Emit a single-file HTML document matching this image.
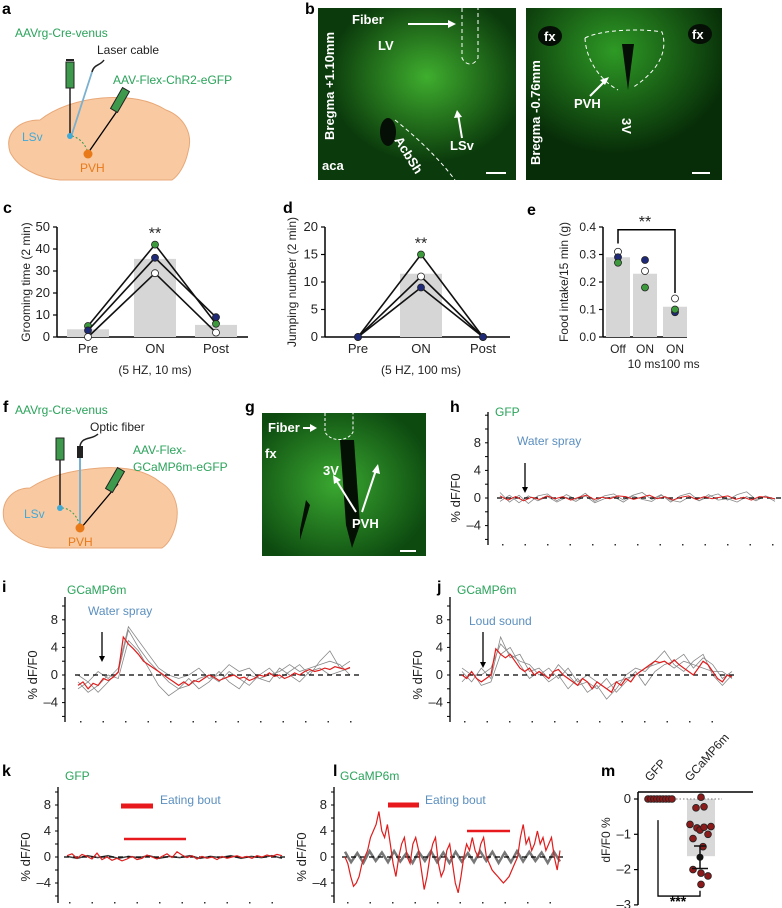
<!DOCTYPE html>
<html><head><meta charset="utf-8">
<style>
html,body{margin:0;padding:0;background:#fff}
svg{display:block;font-family:"Liberation Sans",Arial,sans-serif}
.pl{font-weight:bold;font-size:16px;fill:#000}
.tk{font-size:12px;fill:#222}
.gr{fill:#2aa35a;font-size:12px}
.bl{fill:#5b8fbf;font-size:12px}
.wt{fill:#fff;font-weight:bold;font-size:13px}
</style></head>
<body>
<svg id="fig" width="782" height="908" viewBox="0 0 782 908">
<defs>
<radialGradient id="gb1" cx="0.55" cy="0.4" r="0.5"><stop offset="0" stop-color="#3fae2e"/><stop offset="1" stop-color="#0b3a0c"/></radialGradient>
<radialGradient id="gb2" cx="0.45" cy="0.25" r="0.6"><stop offset="0" stop-color="#2e9a25"/><stop offset="1" stop-color="#072c08"/></radialGradient>
<radialGradient id="gg" cx="0.45" cy="0.5" r="0.6"><stop offset="0" stop-color="#3aa830"/><stop offset="1" stop-color="#0d4a10"/></radialGradient>
<clipPath id="cb1"><rect x="318" y="8" width="198" height="172"/></clipPath>
</defs>

<!-- Panel a -->
<g>
<text class="pl" x="2" y="14">a</text>
<path d="M10,152 C4,132 20,120 40,120 C55,108 78,100 102,98 C130,96 150,100 166,110 C182,116 194,132 188,152 C185,166 178,176 172,180 L60,180 C38,178 18,168 10,152 Z" fill="#f9caa2" stroke="#e8a878"/>
<line x1="70" y1="88" x2="70" y2="136" stroke="#000" stroke-width="1.3"/>
<rect x="66" y="62" width="8" height="26" fill="#3d9a4c" stroke="#222"/>
<line x1="66" y1="60" x2="74" y2="60" stroke="#222" stroke-width="2"/>
<line x1="92" y1="72" x2="72" y2="134" stroke="#7ab0d0" stroke-width="1.8"/>
<path d="M92,72 C94,64 100,66 104,60" fill="none" stroke="#222" stroke-width="1.5"/>
<line x1="122" y1="104" x2="88" y2="153" stroke="#000" stroke-width="1.3"/>
<rect x="116" y="88" width="8" height="24" fill="#3d9a4c" stroke="#222" transform="rotate(30 120 100)"/>
<path d="M72,136 C80,138 86,145 88,153" fill="none" stroke="#3a9a50" stroke-dasharray="2,2"/>
<circle cx="70" cy="136" r="3" fill="#3fa9d8"/>
<circle cx="88" cy="154" r="4.5" fill="#e87a1a"/>
<text class="gr" x="15" y="37">AAVrg-Cre-venus</text>
<text x="97" y="54" font-size="12" fill="#222">Laser cable</text>
<text class="gr" x="113" y="84">AAV-Flex-ChR2-eGFP</text>
<text x="22" y="141" font-size="12" fill="#3fa9d8">LSv</text>
<text x="80" y="172" font-size="12" fill="#e87a1a">PVH</text>
</g>

<!-- Panel b -->
<g>
<text class="pl" x="305" y="14">b</text>
<rect x="318" y="8" width="198" height="172" fill="url(#gb1)"/>
<g clip-path="url(#cb1)">
<ellipse cx="388" cy="132" rx="8" ry="14" fill="#050f05"/>
<path d="M395,120 C420,140 440,160 455,180" fill="none" stroke="#fff" stroke-dasharray="4,3"/>
<path d="M462,8 L462,58 C466,66 474,66 478,58 L478,8" fill="none" stroke="#fff" stroke-dasharray="4,3"/>
<text class="wt" x="394" y="140" transform="rotate(58 394 140)">AcbSh</text>
</g>
<text class="wt" x="352" y="24">Fiber</text>
<line x1="408" y1="24" x2="452" y2="24" stroke="#fff" stroke-width="2"/><polygon points="456,24 448,20 448,28" fill="#fff"/>
<text class="wt" x="378" y="50">LV</text>
<text class="wt" x="450" y="150">LSv</text>
<line x1="462" y1="138" x2="458" y2="114" stroke="#fff" stroke-width="2"/><polygon points="457,110 454,118 462,117" fill="#fff"/>
<text class="wt" x="322" y="170">aca</text>
<text class="wt" x="0" y="0" transform="translate(334,140) rotate(-90)">Bregma +1.10mm</text>
<line x1="486" y1="173" x2="506" y2="173" stroke="#fff" stroke-width="2"/>
<rect x="526" y="8" width="196" height="172" fill="url(#gb2)"/>
<ellipse cx="550" cy="36" rx="12" ry="10" fill="#050f05"/><ellipse cx="700" cy="34" rx="12" ry="10" fill="#050f05"/>
<path d="M622,44 L628,90 L634,44 Z" fill="#050f05"/>
<path d="M585,38 C600,30 640,28 662,32 C668,50 660,70 632,88 M585,38 C586,60 600,80 618,90" fill="none" stroke="#fff" stroke-dasharray="4,3"/>
<text class="wt" x="544" y="41">fx</text><text class="wt" x="692" y="39">fx</text>
<text class="wt" x="574" y="108">PVH</text>
<line x1="590" y1="96" x2="606" y2="80" stroke="#fff" stroke-width="2"/><polygon points="609,77 600,80 605,85" fill="#fff"/>
<text class="wt" x="0" y="0" transform="translate(622,118) rotate(90)">3V</text>
<text class="wt" x="0" y="0" transform="translate(540,165) rotate(-90)">Bregma -0.76mm</text>
<line x1="692" y1="173" x2="710" y2="173" stroke="#fff" stroke-width="2"/>
</g>

<text class="pl" x="3" y="213">c</text>
<text class="pl" x="283" y="213">d</text>
<text class="pl" x="527" y="215">e</text>
<text class="tk" transform="translate(30,282) rotate(-90)" text-anchor="middle">Grooming time (2 min)</text>
<text class="tk" transform="translate(296,282) rotate(-90)" text-anchor="middle">Jumping number (2 min)</text>
<text class="tk" transform="translate(568,282) rotate(-90)" text-anchor="middle">Food intake/15 min (g)</text>
<text class="tk" x="155" y="374" text-anchor="middle">(5 HZ, 10 ms)</text>
<text class="tk" x="421" y="374" text-anchor="middle">(5 HZ, 100 ms)</text>

<!-- Panel f -->
<g>
<text class="pl" x="3" y="412">f</text>
<path d="M4,520 C0,500 14,488 30,488 C48,476 72,470 100,468 C128,466 148,472 160,482 C174,490 180,506 176,524 C173,536 168,544 162,548 L50,548 C30,546 10,536 4,520 Z" fill="#f9caa2" stroke="#e8a878"/>
<line x1="60" y1="460" x2="60" y2="508" stroke="#000" stroke-width="1.3"/>
<rect x="56" y="438" width="8" height="22" fill="#3d9a4c" stroke="#222"/>
<line x1="80" y1="448" x2="80" y2="527" stroke="#7ab0d0" stroke-width="2"/>
<rect x="77" y="446" width="6" height="12" fill="#222"/>
<path d="M80,446 C82,436 92,440 98,434" fill="none" stroke="#222" stroke-width="1.5"/>
<line x1="118" y1="484" x2="81" y2="528" stroke="#000" stroke-width="1.3"/>
<rect x="111" y="468" width="8" height="24" fill="#3d9a4c" stroke="#222" transform="rotate(30 115 480)"/>
<path d="M62,508 C70,508 78,516 80,527" fill="none" stroke="#3a9a50" stroke-dasharray="2,2"/>
<circle cx="60" cy="508" r="3" fill="#3fa9d8"/><circle cx="80" cy="528" r="4.5" fill="#e87a1a"/>
<text class="gr" x="15" y="414">AAVrg-Cre-venus</text>
<text x="90" y="431" font-size="12" fill="#222">Optic fiber</text>
<text class="gr" x="133" y="454">AAV-Flex-</text>
<text class="gr" x="133" y="471">GCaMP6m-eGFP</text>
<text x="24" y="518" font-size="12" fill="#3fa9d8">LSv</text>
<text x="68" y="546" font-size="12" fill="#e87a1a">PVH</text>
</g>

<!-- Panel g -->
<g>
<text class="pl" x="245" y="412">g</text>
<rect x="262" y="413" width="164" height="143" fill="url(#gg)"/>
<path d="M340,440 L354,440 L360,525 L352,548 L346,525 Z" fill="#051005"/>
<path d="M300,530 L306,500 L310,505 L300,540 Z" fill="#051005"/>
<path d="M325,413 L325,432 C330,442 348,442 353,432 L353,413" fill="none" stroke="#fff" stroke-dasharray="3,2"/>
<text class="wt" x="268" y="432">Fiber</text>
<line x1="303" y1="428" x2="313" y2="428" stroke="#fff" stroke-width="2"/><polygon points="317,428 310,424 310,432" fill="#fff"/>
<text class="wt" x="265" y="458">fx</text>
<text class="wt" x="323" y="475">3V</text>
<text class="wt" x="352" y="528">PVH</text>
<line x1="362" y1="512" x2="376" y2="470" stroke="#fff" stroke-width="2"/><polygon points="378,464 372,472 380,474" fill="#fff"/>
<line x1="356" y1="512" x2="336" y2="480" stroke="#fff" stroke-width="2"/><polygon points="333,475 334,484 341,480" fill="#fff"/>
<line x1="400" y1="551" x2="416" y2="551" stroke="#fff" stroke-width="2"/>
</g>

<text class="pl" x="450" y="412">h</text>
<text class="gr" x="495" y="416">GFP</text>
<text class="bl" x="517" y="445">Water spray</text>
<text class="pl" x="2" y="592">i</text>
<text class="gr" x="67" y="594">GCaMP6m</text>
<text class="bl" x="88" y="615">Water spray</text>
<text class="pl" x="437" y="592">j</text>
<text class="gr" x="457" y="594">GCaMP6m</text>
<text class="bl" x="469" y="625">Loud sound</text>
<text class="pl" x="2" y="776">k</text>
<text class="gr" x="65" y="780">GFP</text>
<text class="bl" x="160" y="804">Eating bout</text>
<text class="pl" x="333" y="776">l</text>
<text class="gr" x="340" y="780">GCaMP6m</text>
<text class="bl" x="425" y="804">Eating bout</text>
<text class="pl" x="601" y="776">m</text>
<text class="tk" transform="translate(610,840) rotate(-90)" text-anchor="middle">dF/F0 %</text>
<text class="tk" transform="translate(650,782) rotate(-48)">GFP</text>
<text class="tk" transform="translate(690,782) rotate(-48)">GCaMP6m</text>
<text x="678" y="906" font-size="14" font-weight="bold" text-anchor="middle">***</text>

<g id="dyn"></g>
</svg>
<script>
// ---- data ----
var catsC = ['Pre','ON','Post'];
var barsC = [3.5, 35.5, 5.5];
var greenC = [5, 42, 6];
var navyC = [3, 36, 9];
var whiteC = [0, 29, 2];
var ticksC = [0,10,20,30,40,50];

var catsD = ['Pre','ON','Post'];
var barsD = [0, 11.5, 0];
var greenD = [0, 15, 0];
var whiteD = [0, 11, 0];
var navyD = [0, 9, 0];
var ticksD = [0,5,10,15,20];

var catsE = ['Off','ON','ON'];
var subCatsE = ['', '10 ms', '100 ms'];
var barsE = [0.29, 0.23, 0.11];
var whiteE = [0.31, 0.24, 0.14];
var navyE = [0.29, 0.28, 0.09];
var greenE = [0.27, 0.18, 0.10];
var ticksE = ['0.0','0.1','0.2','0.3','0.4'];

var ticksTrace = [8, 4, 0, -4];
var ticksM = [0, -1, -2, -3];

var hRed = [0.3,-0.3,0.2,-0.4,0.1,-0.2,0.3,-0.1,0.2,-0.3,0.1,0.4,-0.2,0.1,-0.1,0.3,0.2,-0.2,0.1,0.4,-0.1,0.2,-0.3,0.1,0.3,-0.2,0.2,-0.1,0.1,0.3,-0.2,0.1,-0.3,0.2,0.1,-0.1];
var hGray1 = [0.8,-0.6,0.4,-0.8,0.3,0.6,-0.4,0.5,-0.2,0.7,-0.5,0.3,0.6,-0.3,0.4,0.8,-0.2,0.5,-0.6,0.3,0.7,-0.4,0.2,0.6,-0.3,0.5,0.9,-0.2,0.3,-0.5];
var hGray2 = [-0.5,0.4,-0.7,0.3,-0.4,0.2,-0.6,0.1,-0.5,0.3,-0.7,-0.1,0.2,-0.6,0.3,-0.2,-0.5,0.4,-0.3,-0.6,0.2,-0.4,0.5,-0.3,-0.1,-0.6,0.2,-0.4,0.3,-0.2];

var iRed = [-1.5,-1,-2,-1.2,-1.5,-0.5,-0.8,-0.3,0.4,5.5,4.5,3.8,3,2,1.5,1,0.5,0,-0.5,-1,-1.5,-1,-1.5,-0.8,-1,-0.5,0,-0.3,-0.8,-0.5,-0.2,0,-0.5,-0.3,-0.8,-0.5,0,-0.2,0.3,-0.2,0,-0.5,-0.2,0.3,0,0.5,0.8,0.5,0.7,1,0.8,1.2,1,0.8,1.1];
var iGray1 = [-2,-1,-2.5,-1,0.5,6.5,4,2,0.5,-1,-2,-1.5,-0.5,0,-1,0.5,-0.5,-1.5,0,1,-0.5,0.5,1.5,0,2,3.5,1,2];
var iGray2 = [-1,-2.5,-1.5,0,-0.5,5,3.5,1,-1.5,-3,-2,-0.5,-2,-1,0.5,-1,-2,0,-0.5,-1,1,0,-1,0.5,1,0,0.5,1];
var iGray3 = [0,-1,0.5,-0.5,1,7,5,3,1,0,-0.5,0,1,-0.5,0,1.5,0.5,1,-0.5,0,0.5,1.5,0.5,1,1.5,2,1.5,0];

var jRed = [0,-0.5,0.5,-0.5,-1,-0.5,0,3.8,3,2.5,3,2,1,0.5,1,0,0.5,0,-0.5,0.5,0.8,0,-0.5,-1,-1.5,-0.5,-1,-2,-1,-1.5,-2,-2.5,-1,-1.5,-0.5,-1,0,0.5,1,1.5,2,1.8,2,1.5,2.2,1.5,1,0.5,0,1,2,1.5,0.5,-0.5,-1,0,-0.3];
var jGray1 = [0.5,-1,1,-0.5,5.5,2.5,3,0.5,1,-0.5,1.5,0,-1.5,-1,-2,-0.5,-2.5,-1,0.5,-1.5,0.5,1.5,2,3,1,2.5,1.5,-0.5,0.5];
var jGray2 = [-1,0.5,-1.5,-1,3,4,1.5,-0.5,0.5,-1,0,-2,-0.5,-2.5,-1.5,-3.5,-2,0,1,0.5,2,3.5,1.5,0.5,2,3,0,-1.5,0];
var jGray3 = [1,0,0,1,4.5,3,2,1.5,0,1,-0.5,1,-1,0,-1,-2,-1,-0.5,0,1,1.5,2,1,2,1.5,1,0.5,0.5,-0.5];

var kRed = [0.2,0.5,-0.2,0.4,0.1,-0.3,0.6,-0.4,0,-0.5,-0.2,-0.6,-0.3,0.1,-0.4,-0.2,0.3,0,-0.3,0.1,0.5,-0.1,0.8,0.3,-0.1,0.2,-0.3,0.1,-0.2,0,-0.4,0.1,-0.2,0,0.2,-0.1,0.1,-0.2,0.2,0,0.3,0.1,0.4,0.2];
var kGray = [0.1,-0.2,0.2,-0.1,0.2,-0.2,0.1,-0.1,0.2,-0.2,0.1,-0.1,0.2,-0.2,0.1,-0.1,0.2,-0.2,0.1,-0.1,0.2,-0.2];
var lRed = [0,-1,-3,-4.5,-4,-3,-1,0,1,3,4,5,7,4,3,5,2,-1,-3,0,2,3,0,-1,2,3,1,-2,-5,-3,0,2,3,-1,-3,-2,1,2,-1,-4,-5.5,-3,0,2,1,3,1,0,2,3,0,-1,-2,-2.5,-3,-3.5,-4,-3.5,-3,-2,-1,0,3,5,2,3,1,2,4,2,3,1,2,3,0,-2,1];
var lGray = [0.8,-0.8,0.6,-0.9,0.9,-0.6,0.7,-0.8,0.9,-0.7,0.6,-0.9,0.8,-0.6,0.9,-0.8,0.7,-0.9,0.8,-0.7,0.6,-0.8,0.9,-0.6,0.8,-0.9,0.7,-0.8,0.9,-0.7,0.8,-0.6,0.7,-0.9,0.8,-0.7];

var mGfp = [0,0,0,0,0,0,0,0,0];
var mGcamp = [0.05,-0.25,-0.22,-0.72,-0.82,-0.78,-0.88,-1.0,-1.12,-1.35,-2.0,-2.1,-2.18,-2.42,-0.8];
var mGcampMean = -1.65;
var mGcampSem = 0.32;
var mBar = -1.62;

// ---- helpers ----
var NS='http://www.w3.org/2000/svg';
var root=document.getElementById('dyn');
function mk(tag, a){var e=document.createElementNS(NS,tag);for(var k in a)e.setAttribute(k,a[k]);root.appendChild(e);return e;}
function txt(x,y,s,anchor,size){var e=mk('text',{x:x,y:y,'text-anchor':anchor||'end','font-size':size||12,fill:'#222'});e.textContent=s;return e;}

function axisTicks(ax, x, vals, yf, name, fs){
  vals.forEach(function(v){
    var y=yf(parseFloat(v));
    var t=mk('line',{x1:x-4,y1:y,x2:x,y2:y,stroke:'#000','stroke-width':1.2});
    
    
    var l=txt(x-7,y+4,String(v).replace('-','\u2013'),'end',fs||13);
    
    
  });
}

function catChart(o){
  var xs=o.xs, yf=o.yf;
  var ya=mk('line',{x1:o.x0,y1:o.yTop,x2:o.x0,y2:o.y0,stroke:'#000','stroke-width':1.5});
  
  
  var xa=mk('line',{x1:o.x0,y1:o.y0,x2:o.x1,y2:o.y0,stroke:'#000','stroke-width':1.5});
  
  
  axisTicks(null,o.x0,o.ticks,yf,o.name,o.fs);
  o.bars.forEach(function(v,i){
    var b=mk('rect',{x:xs[i]-o.bw/2,y:yf(v),width:o.bw,height:o.y0-yf(v),fill:'#d6d6d6'});
    
    
  });
  o.cats.forEach(function(c,i){
    var l=txt(xs[i],o.y0+16,c,'middle',o.fs||13);
    
    
  });
}

function seriesLine(arr, xs, yf, color, name, lines){
  if(lines){
    var d=arr.map(function(v,i){return (i?'L':'M')+xs[i]+','+yf(v);}).join(' ');
    var p=mk('path',{d:d,fill:'none',stroke:'#111','stroke-width':1.6});
    
    
  }
  arr.forEach(function(v,i){
    var c=mk('circle',{cx:xs[i],cy:yf(v),r:3.5,fill:color,stroke:'#222','stroke-width':0.8});
    
    
  });
}

// ---- panel c ----
var yC=function(v){return 337-v*2.2;};
var xsC=[88,155,216];
catChart({name:'panel-c',xs:xsC,yf:yC,x0:57,x1:248,y0:337,yTop:227,ticks:ticksC,bars:barsC,cats:catsC,bw:42});
seriesLine(greenC,xsC,yC,'#3c9a3c','panel-c-green',true);
seriesLine(navyC,xsC,yC,'#1e2a78','panel-c-navy',true);
seriesLine(whiteC,xsC,yC,'#ffffff','panel-c-white',true);
var s1=txt(155,yC(42)-6,'**','middle',16);  

// ---- panel d ----
var yD=function(v){return 337-v*5.5;};
var xsD=[358,421,483];
catChart({name:'panel-d',xs:xsD,yf:yD,x0:325,x1:510,y0:337,yTop:227,ticks:ticksD,bars:barsD,cats:catsD,bw:42});
seriesLine(greenD,xsD,yD,'#3c9a3c','panel-d-green',true);
seriesLine(whiteD,xsD,yD,'#ffffff','panel-d-white',true);
seriesLine(navyD,xsD,yD,'#1e2a78','panel-d-navy',true);
var s2=txt(421,yD(15)-6,'**','middle',16);  

// ---- panel e ----
var yE=function(v){return 337-v*275;};
var xsE=[618,645,675];
catChart({name:'panel-e',xs:xsE,yf:yE,x0:603,x1:687,y0:337,yTop:227,ticks:ticksE,bars:barsE,cats:catsE,bw:24,fs:12});
var subX=[618,644,680];
subCatsE.forEach(function(c,i){var l=txt(subX[i],337+31,c,'middle',12);
  
  });
seriesLine(whiteE,xsE,yE,'#ffffff','panel-e-white',false);
seriesLine(navyE,xsE,yE,'#1e2a78','panel-e-navy',false);
seriesLine(greenE,xsE,yE,'#3c9a3c','panel-e-green',false);
var br=mk('path',{d:'M'+xsE[0]+','+yE(0.34)+' L'+xsE[0]+','+yE(0.39)+' L'+xsE[2]+','+yE(0.39)+' L'+xsE[2]+','+yE(0.16),fill:'none',stroke:'#000','stroke-width':1.5});


var s3=txt(645,yE(0.39)-3,'**','middle',16);  

// ---- trace panels ----
function tracePanel(o){
  var ya=mk('line',{x1:o.ax,y1:o.yTop,x2:o.ax,y2:o.yBot,stroke:'#000','stroke-width':1.3});
  
  
  for(var v=-8; v<=12; v+=2){var y=o.yf(v); if(y<o.yTop||y>o.yBot)continue;
    var t=mk('line',{x1:o.ax-3,y1:y,x2:o.ax,y2:y,stroke:'#000'});
    
    }
  ticksTrace.forEach(function(v){
    var l=txt(o.ax-7,o.yf(v)+4,String(v).replace('-','\u2013'),'end',13);
    
    
  });
  var yl=mk('text',{transform:'translate('+(o.ax-28)+','+o.yf(0)+') rotate(-90)','text-anchor':'middle','font-size':13,fill:'#222'});
  yl.textContent='% dF/F0';
  
  
  for(var x=o.x0+2; x<=o.x1; x+=22.5){
    var d=mk('rect',{x:x,y:o.yBot-1,width:1.5,height:1.5,fill:'#333'});
    
    
  }
  o.grays.forEach(function(arr){
    var p=mk('path',{d:pathOf(arr,o.x0,o.x1,o.yf),fill:'none',stroke:o.grayColor||'#888','stroke-width':o.grayW||0.8});
    
    
  });
  var z=mk('line',{x1:o.x0-3,y1:o.yf(0),x2:o.dashEnd,y2:o.yf(0),stroke:'#000','stroke-width':1.3,'stroke-dasharray':'5,4'});
  
  
  var r=mk('path',{d:pathOf(o.red,o.x0,o.x1,o.yf),fill:'none',stroke:'#e01c1c','stroke-width':o.redW||1.2});
  
  
}
function pathOf(arr,x0,x1,yf){var n=arr.length-1;return arr.map(function(v,i){return (i?'L':'M')+(x0+(x1-x0)*i/n).toFixed(1)+','+yf(v).toFixed(1);}).join(' ');}
function arrow(x,y1,y2,name){
  var a=mk('line',{x1:x,y1:y1,x2:x,y2:y2-5,stroke:'#000','stroke-width':1.3});
  
  
  var h=mk('polygon',{points:(x-3)+','+(y2-6)+' '+(x+3)+','+(y2-6)+' '+x+','+y2,fill:'#000'});
  
  
}

var yH=function(v){return 498-v*6.9;};
tracePanel({name:'panel-h',ax:488,yTop:412,yBot:545,x0:500,x1:775,dashEnd:782,yf:yH,red:hRed,grays:[hGray1,hGray2],redW:1});
arrow(525,463,493,'stimulus-arrow-h');

var yI=function(v){return 675-v*6.9;};
tracePanel({name:'panel-i',ax:65,yTop:597,yBot:722,x0:78,x1:350,dashEnd:360,yf:yI,red:iRed,grays:[iGray1,iGray2,iGray3]});
arrow(102,632,662,'stimulus-arrow-i');

var yJ=function(v){return 675-v*6.9;};
tracePanel({name:'panel-j',ax:450,yTop:597,yBot:722,x0:462,x1:732,dashEnd:734,yf:yJ,red:jRed,grays:[jGray1,jGray2,jGray3]});
arrow(483,632,668,'stimulus-arrow-j');

var yK=function(v){return 857-v*6.5;};
tracePanel({name:'panel-k',ax:58,yTop:787,yBot:903,x0:67,x1:282,dashEnd:288,yf:yK,red:kRed,grays:[kGray],grayColor:'#444',grayW:1.5});
var yL=function(v){return 857-v*6.5;};
tracePanel({name:'panel-l',ax:334,yTop:787,yBot:903,x0:345,x1:560,dashEnd:566,yf:yL,red:lRed,grays:[lGray],grayColor:'#777',grayW:2.5});
[[121,153,806,5,'eating-bout-bar-k'],[124,186,839,2.5,'eating-bout-line-k'],[388,419,805,5,'eating-bout-bar-l'],[467,510,831,2.5,'eating-bout-line-l']].forEach(function(b){
  var e=mk('line',{x1:b[0],y1:b[2],x2:b[1],y2:b[2],stroke:'#e8191c','stroke-width':b[3]});
  
  
});

// ---- panel m ----
var yM=function(v){return 799-v*35.3;};
var ym=mk('line',{x1:638,y1:792,x2:638,y2:905,stroke:'#000','stroke-width':1.5});


var topL=mk('line',{x1:638,y1:792,x2:753,y2:792,stroke:'#000','stroke-width':1.5});


axisTicks(null,638,ticksM,yM,'panel-m');
var mb=mk('rect',{x:687,y:yM(0),width:28,height:yM(mBar)-yM(0),fill:'#d8d8d8'});


var dz=mk('line',{x1:648,y1:yM(0),x2:722,y2:yM(0),stroke:'#777','stroke-dasharray':'1.5,2'});


mGfp.forEach(function(v,i){
  var c=mk('circle',{cx:648+i*3,cy:yM(v),r:3.4,fill:'#8b1a1a',stroke:'#222','stroke-width':0.8});
  
  
});
var jit=[0,-5,3,-11,-4,10,-1,7,-8,2,-8,0,7,0,3];
mGcamp.forEach(function(v,i){
  var c=mk('circle',{cx:701+jit[i],cy:yM(v),r:3.4,fill:'#8b1a1a',stroke:'#222','stroke-width':0.8});
  
  
});
var eb=mk('path',{d:'M700,'+yM(mGcampMean+mGcampSem)+' L700,'+yM(mGcampMean-mGcampSem)+' M692,'+yM(mGcampMean-mGcampSem)+' L708,'+yM(mGcampMean-mGcampSem)+' M694,'+yM(mGcampMean+mGcampSem)+' L706,'+yM(mGcampMean+mGcampSem),stroke:'#111','stroke-width':1.5,fill:'none'});


var md=mk('circle',{cx:700,cy:yM(mGcampMean),r:3.5,fill:'#111'});


var mbr=mk('path',{d:'M658,'+yM(-0.6)+' L658,'+yM(-2.75)+' L700,'+yM(-2.75)+' L700,'+yM(-2.6),fill:'none',stroke:'#000','stroke-width':1.3});


</script>
</body></html>
